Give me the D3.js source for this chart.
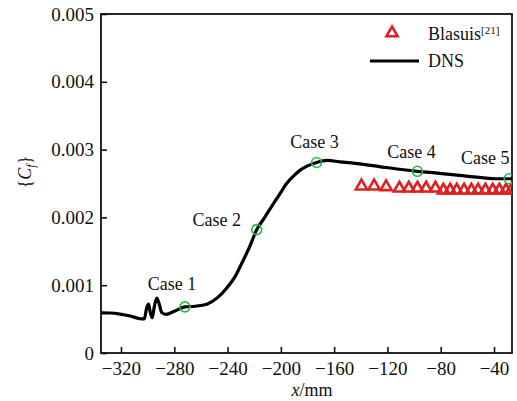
<!DOCTYPE html>
<html>
<head>
<meta charset="utf-8">
<script src="https://cdn.jsdelivr.net/npm/d3@7"></script>
<style>
  body { margin: 0; background: #fff; }
  svg text { font-family: "Liberation Serif", "Times New Roman", serif; fill: #111; }
</style>
</head>
<body>
<svg id="chart" width="517" height="401"></svg>
<script>
// DNS skin friction curve
var dnsX  = [-335, -328, -320.7, -313, -306, -302.5, -300.8, -299.3, -298, -296.6, -295, -293.2, -291.4, -289.5, -286.3, -279.5, -272,
             -264.6, -255.6, -247.3, -240.6, -234.6, -229.4, -223.4, -218.1, -212.1, -207, -201, -195.7, -190, -186, -180, -173.2,
             -165, -156, -141, -126, -111, -97.5, -81, -66, -51, -36, -28.6, -26.5];
var dnsCf = [0.000593, 0.00059, 0.000574, 0.000545, 0.000508, 0.000502, 0.00066, 0.00072, 0.0006, 0.00052, 0.00068, 0.00081, 0.00073, 0.0006, 0.00057, 0.00062, 0.00068,
             0.00069, 0.00072, 0.00082, 0.00096, 0.00112, 0.00132, 0.00157, 0.00182, 0.002, 0.00216, 0.00234, 0.0025, 0.00262, 0.00269, 0.00276, 0.00281,
             0.00284, 0.00282, 0.00279, 0.00275, 0.00271, 0.00268, 0.00265, 0.00262, 0.00259, 0.00257, 0.00257, 0.00257];

// Blasius data (triangles)
var blasX  = [-139.5, -130, -121, -111, -104, -97.5, -91, -84, -78, -73, -68, -62.5, -57, -52, -46.5, -41, -36, -31, -27];
var blasCf = [0.00246, 0.00246, 0.00245, 0.00243, 0.00243, 0.00243, 0.00243, 0.00243, 0.0024, 0.0024, 0.0024, 0.0024, 0.0024, 0.0024, 0.0024, 0.0024, 0.0024, 0.0024, 0.0024];

// case points
var caseNames = ['Case 1', 'Case 2', 'Case 3', 'Case 4', 'Case 5'];
var caseX  = [-272, -218.1, -173.2, -97.5, -28.6];
var caseCf = [0.00068, 0.00182, 0.00281, 0.00268, 0.00257];

var xTicks = [-320, -280, -240, -200, -160, -120, -80, -40];
var yTicks = [0, 0.001, 0.002, 0.003, 0.004, 0.005];

var svg = d3.select('#chart');
var margin = {top: 14, right: 5, bottom: 48, left: 101},
    width = 517 - margin.left - margin.right,
    height = 401 - margin.top - margin.bottom;

var g = svg.append('g').attr('transform', 'translate(' + margin.left + ',' + margin.top + ')');

var x = d3.scaleLinear().domain([-335, -26.5]).range([0, width]);
var y = d3.scaleLinear().domain([0, 0.005]).range([height, 0]);

g.append('clipPath').attr('id', 'clip')
  .append('rect').attr('width', width).attr('height', height);

// axes, ticks inward
var xAxis = g.append('g').attr('transform', 'translate(0,' + height + ')')
  .call(d3.axisBottom(x).tickValues(xTicks).tickSize(-6).tickPadding(9)
    .tickFormat(function(d) { return '\u2212' + Math.abs(d); }));
var yAxis = g.append('g')
  .call(d3.axisLeft(y).tickValues(yTicks).tickSize(-6).tickPadding(7)
    .tickFormat(function(d) { return d === 0 ? '0' : d3.format('.3f')(d); }));

[xAxis, yAxis].forEach(function(a) {
  a.select('.domain').remove();
  a.selectAll('line').attr('stroke', '#111').attr('stroke-width', 1.6);
  a.selectAll('text').style('font-size', '19px').attr('fill', '#222');
});

// frame
g.append('rect').attr('width', width).attr('height', height)
  .attr('fill', 'none').attr('stroke', '#111').attr('stroke-width', 1.8);

var plot = g.append('g').attr('clip-path', 'url(#clip)');

// triangles
var tri = d3.symbol().type(d3.symbolTriangle).size(55);
plot.selectAll('.tri').data(blasX).enter().append('path')
  .attr('class', 'tri')
  .attr('d', tri)
  .attr('transform', function(d, i) { return 'translate(' + x(d) + ',' + y(blasCf[i]) + ')'; })
  .attr('fill', 'none').attr('stroke', '#e02020').attr('stroke-width', 2.6);

// DNS line
var line = d3.line()
  .x(function(d, i) { return x(d); })
  .y(function(d, i) { return y(dnsCf[i]); })
  .curve(d3.curveMonotoneX);
plot.append('path').datum(dnsX)
  .attr('d', line)
  .attr('fill', 'none').attr('stroke', '#000').attr('stroke-width', 3.2)
  .attr('stroke-linejoin', 'round');

// case circles
plot.selectAll('.case').data(caseX).enter().append('circle')
  .attr('cx', function(d) { return x(d); })
  .attr('cy', function(d, i) { return y(caseCf[i]); })
  .attr('r', 5)
  .attr('fill', 'none').attr('stroke', '#2fb84a').attr('stroke-width', 1.6);

// case labels (offsets from the circle, px)
var labelDx = [-13, -40, -2, -6, -24];
var labelDy = [-17, -4, -14, -13, -15];
g.selectAll('.caselbl').data(caseNames).enter().append('text')
  .attr('x', function(d, i) { return x(caseX[i]) + labelDx[i]; })
  .attr('y', function(d, i) { return y(caseCf[i]) + labelDy[i]; })
  .attr('text-anchor', 'middle')
  .style('font-size', '18px')
  .text(function(d) { return d; });

// legend
var lg = g.append('g');
lg.append('path').attr('d', tri)
  .attr('transform', 'translate(' + (392 - margin.left) + ',' + (33 - margin.top) + ')')
  .attr('fill', 'none').attr('stroke', '#e02020').attr('stroke-width', 2.6);
var bl = lg.append('text').attr('x', 428 - margin.left).attr('y', 40 - margin.top).style('font-size', '18px');
bl.append('tspan').text('Blasuis');
bl.append('tspan').attr('dy', -6).style('font-size', '11px').text('[21]');
lg.append('line')
  .attr('x1', 370 - margin.left).attr('x2', 419 - margin.left)
  .attr('y1', 61 - margin.top).attr('y2', 61 - margin.top)
  .attr('stroke', '#000').attr('stroke-width', 3);
lg.append('text').attr('x', 428 - margin.left).attr('y', 67 - margin.top).style('font-size', '18px').text('DNS');

// axis titles
var yl = svg.append('text')
  .attr('transform', 'translate(31,172) rotate(-90)')
  .attr('text-anchor', 'middle')
  .style('font-size', '18px');
yl.append('tspan').text('{');
yl.append('tspan').style('font-style', 'italic').text('C');
yl.append('tspan').attr('dy', 4).style('font-size', '12px').style('font-style', 'italic').text('f');
yl.append('tspan').attr('dy', -4).text('}');

var xl = svg.append('text')
  .attr('x', 312).attr('y', 396)
  .attr('text-anchor', 'middle')
  .style('font-size', '18px');
xl.append('tspan').style('font-style', 'italic').text('x');
xl.append('tspan').text('/mm');
</script>
</body>
</html>
